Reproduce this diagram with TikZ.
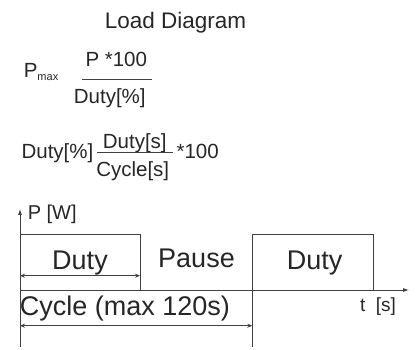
\documentclass[tikz,border=0pt]{standalone}
\usepackage{fontspec}
\setmainfont{Liberation Sans}
\usetikzlibrary{arrows.meta}
\tikzset{
  txt/.style={inner sep=0pt, anchor=base west, text=black!85},
  big/.style={txt, font=\fontsize{27}{30}\selectfont},
  mid/.style={txt, font=\fontsize{20.5}{24}\selectfont},
  axis/.style={-{Latex[length=6pt,width=4pt]}},
  span/.style={{Stealth[length=5pt,width=4pt]}-{Stealth[length=5pt,width=4pt]}}
}

\begin{document}
\begin{tikzpicture}[x=1pt,y=-1pt,line width=0.8pt,draw=black!75]
\useasboundingbox (0,0) rectangle (416,350);
% formulas
\node[txt,font=\fontsize{22.5}{26}\selectfont] (title) at (104.5,28.3) {Load Diagram};
\node[mid] (pmax) at (23.4,77.7) {P{\fontsize{11}{12}\selectfont\raisebox{-3.3pt}{max}}};
\node[mid] (pnum) at (85.1,66.7) {P *100};
\node[mid] (pden) at (73.5,103.3) {Duty[\%]};
\coordinate (f1l) at (82,79);
\coordinate (f1r) at (152,79);
\draw (f1l) -- (f1r);
\node[mid] (dpct) at (21.2,158.3) {Duty[\%]};
\node[mid] (dnum) at (102.5,148.3) {Duty[s]};
\node[mid] (dden) at (95.9,176.7) {Cycle[s]};
\node[mid] (times) at (176.2,158.3) {*100};
\coordinate (f2l) at (97,152.3);
\coordinate (f2r) at (173,152.3);
\draw (f2l) -- (f2r);
% axes
\coordinate (O) at (20,290);
\coordinate (ybot) at (20,347);
\coordinate (ytop) at (20,209);
\coordinate (xend) at (409,290);
\draw[axis] (ybot) -- (ytop);
\draw[axis] (O) -- (xend);
\node[txt,font=\fontsize{20}{24}\selectfont] (pw) at (27.4,220) {P [W]};
\node[txt,font=\fontsize{19}{22}\selectfont] (ts) at (359.7,311.7) {t\ \ [s]};
% pulses
\coordinate (d1) at (140,234.3);
\coordinate (d2a) at (252.3,234.3);
\coordinate (d2b) at (373.3,290);
\draw (O) |- (d1) -- (d1 |- O);
\draw (d2a |- ybot) -- (d2a) -| (d2b);
\node[big,anchor=base] (duty1) at (80,270) {Duty};
\node[big,anchor=base] (pause) at (196.5,267.3) {Pause};
\node[big,anchor=base] (duty2) at (314.7,270) {Duty};
% spans
\coordinate (s1l) at (20,275.7);
\coordinate (s1r) at (d1 |- s1l);
\draw[span] (s1l) -- (s1r);
\coordinate (s2l) at (20,325.7);
\coordinate (s2r) at (d2a |- s2l);
\draw[span] (s2l) -- (s2r);
\node[big] (cycle) at (19.4,316) {Cycle (max 120s)};
\end{tikzpicture}
\end{document}
